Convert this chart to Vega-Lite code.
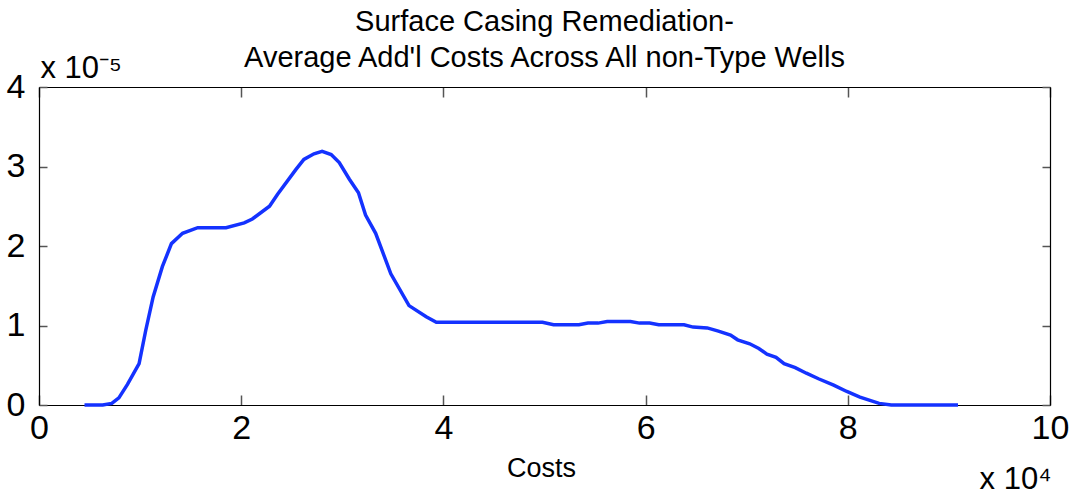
{
  "$schema": "https://vega.github.io/schema/vega-lite/v6.json",
  "width": 1011,
  "height": 318,
  "autosize": "none",
  "padding": {"left": 39, "top": 87, "right": 23, "bottom": 91},
  "background": "white",
  "config": {
    "view": {"stroke": null},
    "font": "Liberation Sans",
    "axis": {
      "grid": false,
      "domainColor": "black",
      "domainWidth": 1.2,
      "tickColor": "#555555",
      "tickWidth": 1.5,
      "labelColor": "black",
      "titleColor": "black",
      "labelFont": "Liberation Sans",
      "titleFont": "Liberation Sans",
      "titleFontWeight": "normal"
    }
  },
  "title": {
    "text": ["Surface Casing Remediation-", "Average Add'l Costs Across All non-Type Wells"],
    "fontSize": 29,
    "fontWeight": "normal",
    "font": "Liberation Sans",
    "color": "black",
    "lineHeight": 36,
    "anchor": "middle",
    "frame": "group",
    "offset": -21
  },
  "data": {
    "values": [
      {"cost": 0.45, "density": 0},
      {"cost": 0.63, "density": 0},
      {"cost": 0.72, "density": 0.02},
      {"cost": 0.79, "density": 0.09},
      {"cost": 0.875, "density": 0.26},
      {"cost": 0.99, "density": 0.52},
      {"cost": 1.056, "density": 0.94},
      {"cost": 1.129, "density": 1.36},
      {"cost": 1.22, "density": 1.74},
      {"cost": 1.31, "density": 2.03},
      {"cost": 1.42, "density": 2.16},
      {"cost": 1.57, "density": 2.23},
      {"cost": 1.85, "density": 2.23},
      {"cost": 2.03, "density": 2.29},
      {"cost": 2.11, "density": 2.34},
      {"cost": 2.28, "density": 2.5},
      {"cost": 2.36, "density": 2.65},
      {"cost": 2.54, "density": 2.96},
      {"cost": 2.62, "density": 3.09},
      {"cost": 2.72, "density": 3.16},
      {"cost": 2.8, "density": 3.19},
      {"cost": 2.89, "density": 3.15},
      {"cost": 2.97, "density": 3.05},
      {"cost": 3.07, "density": 2.84},
      {"cost": 3.16, "density": 2.67},
      {"cost": 3.23, "density": 2.39},
      {"cost": 3.33, "density": 2.16},
      {"cost": 3.48, "density": 1.65},
      {"cost": 3.66, "density": 1.25},
      {"cost": 3.83, "density": 1.11},
      {"cost": 3.93, "density": 1.04},
      {"cost": 4.98, "density": 1.04},
      {"cost": 5.09, "density": 1.01},
      {"cost": 5.34, "density": 1.01},
      {"cost": 5.43, "density": 1.03},
      {"cost": 5.53, "density": 1.03},
      {"cost": 5.62, "density": 1.05},
      {"cost": 5.85, "density": 1.05},
      {"cost": 5.94, "density": 1.03},
      {"cost": 6.04, "density": 1.03},
      {"cost": 6.13, "density": 1.01},
      {"cost": 6.38, "density": 1.01},
      {"cost": 6.47, "density": 0.98},
      {"cost": 6.61, "density": 0.97},
      {"cost": 6.72, "density": 0.93},
      {"cost": 6.84, "density": 0.88},
      {"cost": 6.91, "density": 0.82},
      {"cost": 7.03, "density": 0.77},
      {"cost": 7.12, "density": 0.71},
      {"cost": 7.2, "density": 0.64},
      {"cost": 7.29, "density": 0.6},
      {"cost": 7.37, "density": 0.52},
      {"cost": 7.48, "density": 0.47},
      {"cost": 7.59, "density": 0.4},
      {"cost": 7.71, "density": 0.33},
      {"cost": 7.86, "density": 0.25},
      {"cost": 7.99, "density": 0.17},
      {"cost": 8.12, "density": 0.1},
      {"cost": 8.31, "density": 0.02},
      {"cost": 8.43, "density": 0},
      {"cost": 9.09, "density": 0}
    ]
  },
  "layer": [
    {
      "mark": {"type": "line", "color": "#1432ff", "strokeWidth": 3.5, "clip": false},
      "encoding": {
        "x": {
          "field": "cost",
          "type": "quantitative",
          "scale": {"domain": [0, 10], "nice": false, "zero": false},
          "axis": {
            "orient": "bottom",
            "values": [0, 2, 4, 6, 8, 10],
            "format": "d",
            "tickSize": -10,
            "labelPadding": 16,
            "labelFontSize": 34,
            "labelFlush": false,
            "title": "Costs",
            "titleFontSize": 27,
            "titleX": 502,
            "titleY": 71,
            "titleBaseline": "alphabetic",
            "titleAlign": "center"
          }
        },
        "y": {
          "field": "density",
          "type": "quantitative",
          "scale": {"domain": [0, 4], "nice": false, "zero": false},
          "axis": {
            "orient": "left",
            "values": [0, 1, 2, 3, 4],
            "format": "d",
            "tickSize": -8,
            "labelPadding": 22,
            "labelFontSize": 34,
            "labelFlush": false,
            "labelBaseline": "middle",
            "title": "x 10\u207b\u2075",
            "titleFontSize": 31,
            "titleAngle": 0,
            "titleX": 1,
            "titleY": -10,
            "titleAlign": "left",
            "titleBaseline": "alphabetic"
          }
        }
      }
    },
    {
      "mark": {"type": "line", "opacity": 0},
      "encoding": {
        "x": {
          "field": "cost",
          "type": "quantitative",
          "axis": {
            "orient": "top",
            "values": [0, 2, 4, 6, 8, 10],
            "tickSize": -10,
            "labels": false,
            "title": "x 10\u2074",
            "titleFontSize": 31,
            "titleX": 1012,
            "titleY": 401,
            "titleAlign": "right",
            "titleBaseline": "alphabetic"
          }
        },
        "y": {
          "field": "density",
          "type": "quantitative",
          "axis": {
            "orient": "right",
            "values": [0, 1, 2, 3, 4],
            "tickSize": -8,
            "labels": false,
            "title": null
          }
        }
      }
    }
  ],
  "resolve": {"axis": {"x": "independent", "y": "independent"}}
}
